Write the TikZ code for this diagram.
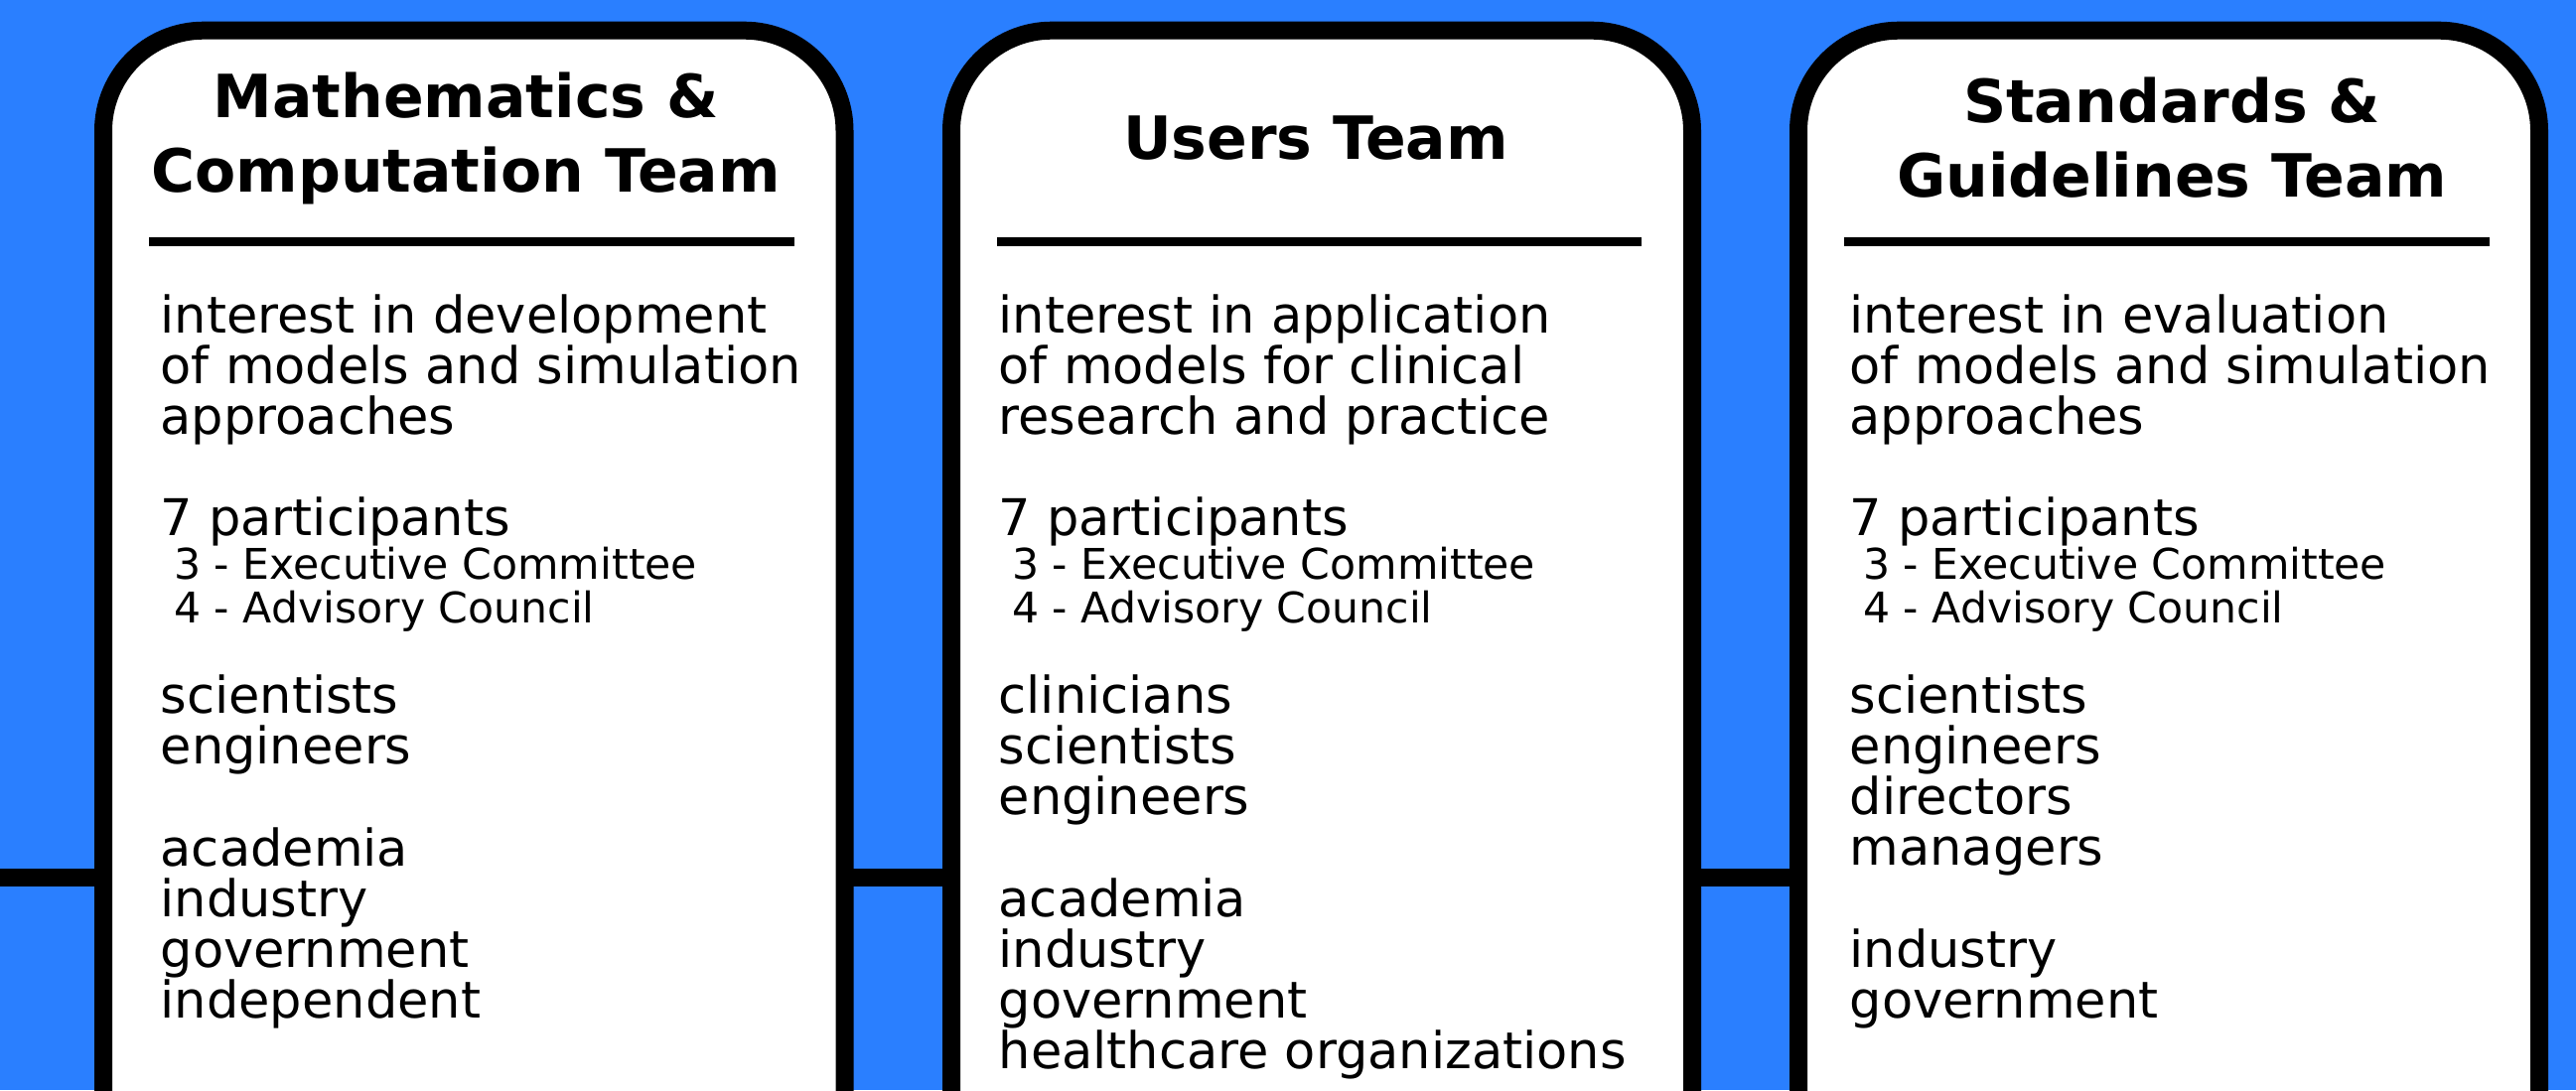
\documentclass[tikz,border=0pt]{standalone}
\usepackage{fontspec}
\setmainfont{DejaVu Sans}
\definecolor{bgblue}{HTML}{2A7FFF}
\begin{document}
\begin{tikzpicture}[x=1pt,y=-1pt,
  teambox/.style={draw=black, line width=18pt, fill=white, rounded corners=101pt},
  titletext/.style={font=\fontsize{60}{75}\selectfont\bfseries, anchor=base, inner sep=0pt},
  bodytext/.style={font=\fontsize{51}{51}\selectfont, anchor=base west, inner sep=0pt},
  smalltext/.style={font=\fontsize{42.6}{44}\selectfont, anchor=base west, inner sep=0pt},
  sepline/.style={line width=9pt},
  linkline/.style={line width=18pt}]
\useasboundingbox (0,0) rectangle (2594,1098);
\clip (0,0) rectangle (2594,1098);
\fill[bgblue] (0,0) rectangle (2594,1098);
% link line behind the boxes
\coordinate (lstart) at (0,884);
\coordinate (lend) at (1811,884);
\draw[linkline] (lstart) -- (lend);
% boxes
\draw[teambox] (104,30.7) rectangle (850.5,1300);
\draw[teambox] (958,30.7) rectangle (1704,1300);
\draw[teambox] (1811,30.7) rectangle (2557,1300);
% separators
\coordinate (s1a) at (150,243.5); \coordinate (s1b) at (800,243.5);
\coordinate (s2a) at (1004,243.5); \coordinate (s2b) at (1653,243.5);
\coordinate (s3a) at (1857,243.5); \coordinate (s3b) at (2507,243.5);
\draw[sepline] (s1a) -- (s1b);
\draw[sepline] (s2a) -- (s2b);
\draw[sepline] (s3a) -- (s3b);
% titles
\node[titletext] (t1a) at (469,118) {Mathematics \&};
\node[titletext] (t1b) at (469,193) {Computation Team};
\node[titletext] (t2a) at (1325,160) {Users Team};
\node[titletext] (t3a) at (2187,123) {Standards \&};
\node[titletext] (t3b) at (2187,198) {Guidelines Team};
% box 1 body
\node[bodytext] (a1) at (161.5,335) {interest in development};
\node[bodytext] (a2) at (161.5,386) {of models and simulation};
\node[bodytext] (a3) at (161.5,437) {approaches};
\node[bodytext] (a4) at (161.5,539) {7 participants};
\node[smalltext] (a5) at (175,583) {3 - Executive Committee};
\node[smalltext] (a6) at (175,627) {4 - Advisory Council};
\node[bodytext] (a7) at (161.5,718) {scientists};
\node[bodytext] (a8) at (161.5,769) {engineers};
\node[bodytext] (a9) at (161.5,872) {academia};
\node[bodytext] (a10) at (161.5,923) {industry};
\node[bodytext] (a11) at (161.5,974) {government};
\node[bodytext] (a12) at (161.5,1025) {independent};
% box 2 body
\node[bodytext] (b1) at (1005.5,335) {interest in application};
\node[bodytext] (b2) at (1005.5,386) {of models for clinical};
\node[bodytext] (b3) at (1005.5,437) {research and practice};
\node[bodytext] (b4) at (1005.5,539) {7 participants};
\node[smalltext] (b5) at (1019,583) {3 - Executive Committee};
\node[smalltext] (b6) at (1019,627) {4 - Advisory Council};
\node[bodytext] (b7) at (1005.5,718) {clinicians};
\node[bodytext] (b8) at (1005.5,769) {scientists};
\node[bodytext] (b9) at (1005.5,820) {engineers};
\node[bodytext] (b10) at (1005.5,923) {academia};
\node[bodytext] (b11) at (1005.5,974) {industry};
\node[bodytext] (b12) at (1005.5,1025) {government};
\node[bodytext] (b13) at (1005.5,1076) {healthcare organizations};
% box 3 body
\node[bodytext] (c1) at (1862.5,335) {interest in evaluation};
\node[bodytext] (c2) at (1862.5,386) {of models and simulation};
\node[bodytext] (c3) at (1862.5,437) {approaches};
\node[bodytext] (c4) at (1862.5,539) {7 participants};
\node[smalltext] (c5) at (1876,583) {3 - Executive Committee};
\node[smalltext] (c6) at (1876,627) {4 - Advisory Council};
\node[bodytext] (c7) at (1862.5,718) {scientists};
\node[bodytext] (c8) at (1862.5,769) {engineers};
\node[bodytext] (c9) at (1862.5,820) {directors};
\node[bodytext] (c10) at (1862.5,871) {managers};
\node[bodytext] (c11) at (1862.5,974) {industry};
\node[bodytext] (c12) at (1862.5,1025) {government};
\end{tikzpicture}
\end{document}
